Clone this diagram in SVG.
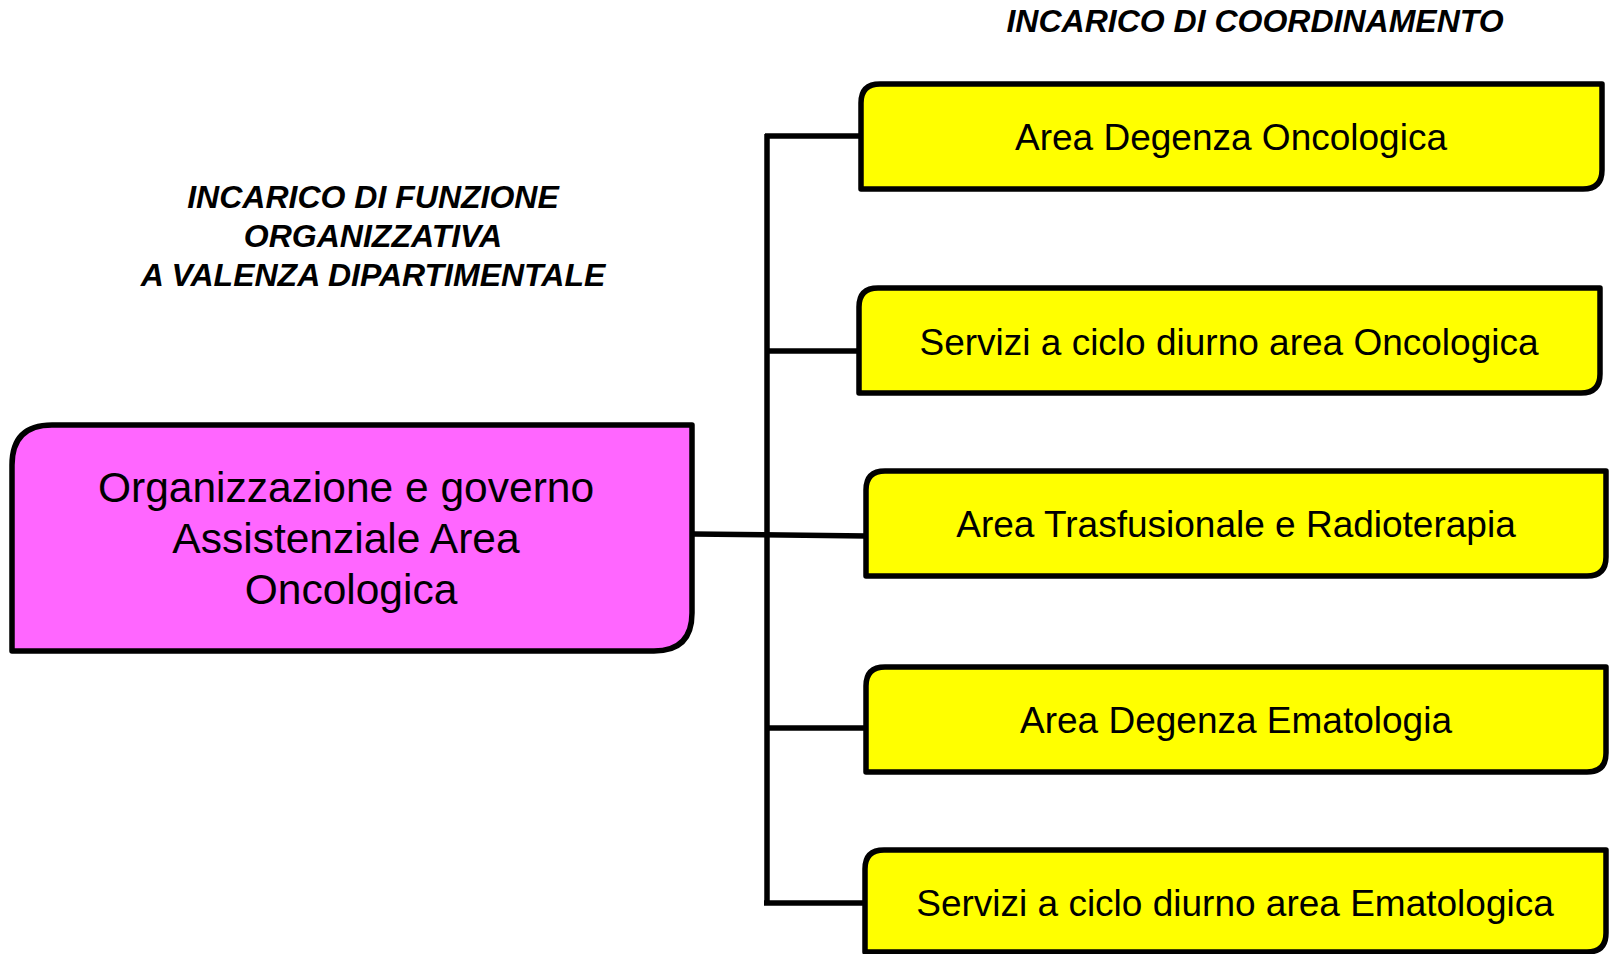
<svg xmlns="http://www.w3.org/2000/svg" width="1609" height="954" viewBox="0 0 1609 954">
<style>
.box{stroke:#000;stroke-width:5.5;stroke-linejoin:round}
.pink{fill:#ff66ff}
.yellow{fill:#ffff00}
.t{font-family:"Liberation Sans",Arial,sans-serif;fill:#000;text-anchor:middle}
.nt{font-size:37px}
.pt{font-size:42.5px}
.hd{font-size:32px;font-weight:bold;font-style:italic}
.conn{stroke:#000;stroke-width:5.5;fill:none}
</style>
<rect width="1609" height="954" fill="#fff"/>
<g id="headers">
<text class="t hd" x="1255" y="32">INCARICO DI COORDINAMENTO</text>
<text class="t hd" x="373" y="208">INCARICO DI FUNZIONE</text>
<text class="t hd" x="373" y="247">ORGANIZZATIVA</text>
<text class="t hd" x="373" y="286">A VALENZA DIPARTIMENTALE</text>
</g>
<g id="connectors">
<line class="conn" x1="767" y1="134" x2="767" y2="905"/>
<line class="conn" x1="765" y1="136" x2="862" y2="136"/>
<line class="conn" x1="767" y1="351" x2="860" y2="351"/>
<line class="conn" x1="693" y1="534" x2="867" y2="536"/>
<line class="conn" x1="767" y1="728" x2="867" y2="728"/>
<line class="conn" x1="764" y1="903" x2="866" y2="903"/>
</g>
<g id="n0">
<path class="box pink" d="M12,651 L12,465 Q12,425 52,425 L692,425 L692,613 Q692,651 654,651 Z"/>
<text class="t pt" x="346" y="502">Organizzazione e governo</text>
<text class="t pt" x="346" y="553">Assistenziale Area</text>
<text class="t pt" x="351" y="604">Oncologica</text>
</g>
<g id="n1">
<path class="box yellow" d="M861,189 L861,103 Q861,84 880,84 L1602,84 L1602,170 Q1602,189 1583,189 Z"/>
<text class="t nt" x="1231" y="150">Area Degenza Oncologica</text>
</g>
<g id="n2">
<path class="box yellow" d="M859,393 L859,307 Q859,288 878,288 L1600,288 L1600,374 Q1600,393 1581,393 Z"/>
<text class="t nt" x="1229" y="355">Servizi a ciclo diurno area Oncologica</text>
</g>
<g id="n3">
<path class="box yellow" d="M866,576 L866,490 Q866,471 885,471 L1606,471 L1606,557 Q1606,576 1587,576 Z"/>
<text class="t nt" x="1236" y="537">Area Trasfusionale e Radioterapia</text>
</g>
<g id="n4">
<path class="box yellow" d="M866,772 L866,686 Q866,667 885,667 L1606,667 L1606,753 Q1606,772 1587,772 Z"/>
<text class="t nt" x="1236" y="733">Area Degenza Ematologia</text>
</g>
<g id="n5">
<path class="box yellow" d="M865,952 L865,869 Q865,850 884,850 L1606,850 L1606,933 Q1606,952 1587,952 Z"/>
<text class="t nt" x="1235" y="916">Servizi a ciclo diurno area Ematologica</text>
</g>
</svg>
